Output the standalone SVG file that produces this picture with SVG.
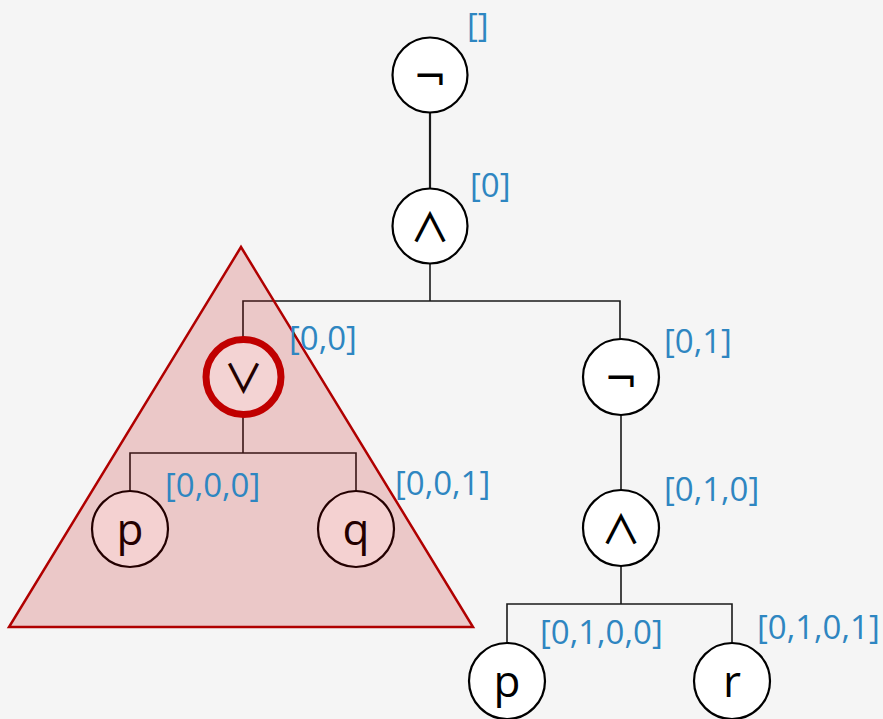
<svg xmlns="http://www.w3.org/2000/svg" width="883" height="719" viewBox="0 0 883 719">
  <style>
    .edge { fill: none; stroke: #1a1a1a; stroke-width: 1.6; }
    .edge.thick { stroke-width: 2.2; }
    .node circle { fill: #ffffff; stroke: #000000; stroke-width: 2.2; }
    .node text { font-family: "Open Sans", "DejaVu Sans", sans-serif; font-size: 44px; fill: #000000; text-anchor: middle; }
    .op text { font-family: "DejaVu Sans", sans-serif; font-size: 40px; }
    .op text.wedge { font-family: "Noto Sans CJK JP", "DejaVu Sans", sans-serif; font-size: 40px; font-weight: 500; }
    .path-label { font-family: "Open Sans", "Liberation Sans", sans-serif; font-size: 33px; fill: #2e86c1; }
  </style>

  <rect x="0" y="0" width="883" height="719" fill="#f5f5f5"/>

  <!-- tree edges -->
  <g id="connectors">
    <line class="edge thick" x1="430" y1="113" x2="430" y2="189"/>
    <polyline class="edge" points="430,264 430,301"/>
    <polyline class="edge" points="243,339 243,301 620,301 620,339"/>
    <polyline class="edge" points="243,416 243,453"/>
    <polyline class="edge" points="130,491 130,453 356,453 356,491"/>
    <line class="edge" x1="621" y1="415" x2="621" y2="490"/>
    <polyline class="edge" points="621,566 621,604"/>
    <polyline class="edge" points="507,643 507,604 732,604 732,643"/>
  </g>

  <!-- nodes -->
  <g id="n-root" class="node op">
    <circle cx="430" cy="75" r="37.5"/>
    <text x="430" y="91">¬</text>
  </g>
  <g id="n-0" class="node op">
    <circle cx="430" cy="226" r="37.5"/>
    <text class="wedge" x="430" y="242">∧</text>
  </g>
  <g id="n-0-0-0" class="node">
    <circle cx="130" cy="529" r="38"/>
    <text x="130" y="545">p</text>
  </g>
  <g id="n-0-0-1" class="node">
    <circle cx="356" cy="529" r="38"/>
    <text x="356" y="545">q</text>
  </g>
  <g id="n-0-1" class="node op">
    <circle cx="621" cy="377" r="38"/>
    <text x="621" y="393">¬</text>
  </g>
  <g id="n-0-1-0" class="node op">
    <circle cx="621" cy="528" r="38"/>
    <text class="wedge" x="621" y="544">∧</text>
  </g>
  <g id="n-0-1-0-0" class="node">
    <circle cx="507" cy="681" r="38"/>
    <text x="507" y="697">p</text>
  </g>
  <g id="n-0-1-0-1" class="node">
    <circle cx="732" cy="681" r="38"/>
    <text x="732" y="697">r</text>
  </g>

  <!-- highlighted subtree -->
  <g id="subtree">
    <polygon points="241,247 9,627 473,627" fill="#c00000" fill-opacity="0.18" stroke="#b00000" stroke-width="2.5" stroke-linejoin="miter"/>
  </g>

  <g id="n-0-0" class="node op">
    <circle cx="243.5" cy="377" r="37.5" style="fill:#f3d3d3;stroke:#c00000;stroke-width:7"/>
    <text class="wedge" x="243.5" y="393" style="fill:#220000">∨</text>
  </g>

  <!-- position labels -->
  <g id="labels">
    <text class="path-label" x="467" y="37">[]</text>
    <text class="path-label" x="470" y="197">[0]</text>
    <text class="path-label" x="289" y="350">[0,0]</text>
    <text class="path-label" x="664" y="353">[0,1]</text>
    <text class="path-label" x="165" y="497">[0,0,0]</text>
    <text class="path-label" x="395" y="495">[0,0,1]</text>
    <text class="path-label" x="664" y="501">[0,1,0]</text>
    <text class="path-label" x="540" y="644">[0,1,0,0]</text>
    <text class="path-label" x="757" y="639">[0,1,0,1]</text>
  </g>
</svg>
